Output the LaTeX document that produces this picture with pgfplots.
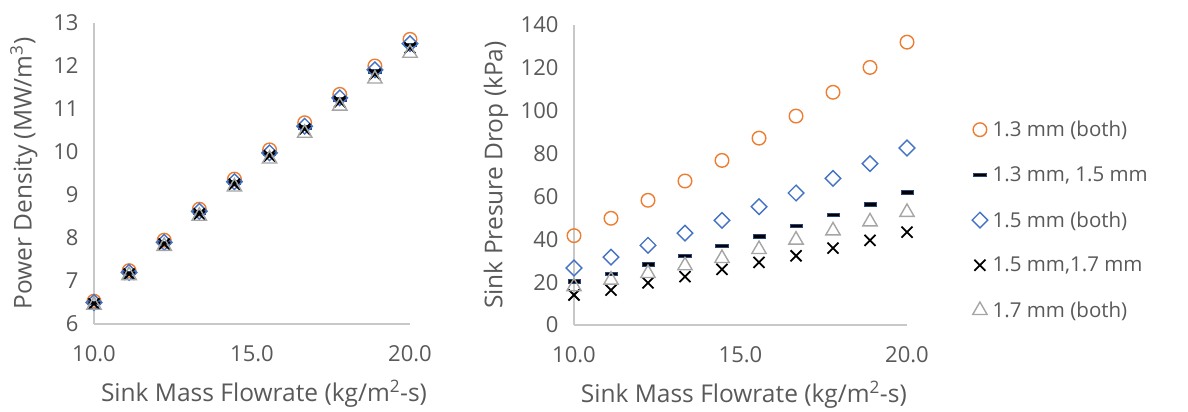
\documentclass[border=0pt]{standalone}
\usepackage{fontspec}
\setmainfont{Open Sans}
\usepackage{pgfplots}
\pgfplotsset{compat=1.18}
\definecolor{cOr}{HTML}{ED7D31}
\definecolor{cBl}{HTML}{4472C4}
\definecolor{cGr}{HTML}{A5A5A5}
\definecolor{cTx}{HTML}{595959}
\definecolor{cAx}{HTML}{C8C8C8}

\pgfplotsset{
  myaxis/.style={
    scale only axis,
    axis x line*=bottom, axis y line*=left,
    axis line style={draw=cAx, line width=1.2pt},
    major tick length=0pt,
    tick style={draw=none},
    ticklabel style={text=cTx, font=\fontsize{22}{24}\selectfont},
    label style={text=cTx, font=\fontsize{24.5}{27}\selectfont},
    /pgf/number format/assume math mode=true,
    xmin=10, xmax=20, xtick={10,15,20},
    xticklabel style={/pgf/number format/fixed, /pgf/number format/fixed zerofill, /pgf/number format/precision=1, yshift=-18pt},
    yticklabel style={xshift=-12pt},
    xlabel={Sink Mass Flowrate (kg/m\textsuperscript{2}-s)},
    clip=false,
  },
  sOr/.style={only marks, mark=o, mark size=6.8pt, mark options={draw=cOr, line width=1.4pt}},
  sDa/.style={only marks, mark=square*, mark size=4pt, mark options={xscale=1.55, yscale=0.45, fill=black, draw=cBl!60!black, line width=0.6pt}},
  sBl/.style={only marks, mark=square, mark size=5.5pt, mark options={rotate=45, draw=cBl, line width=1.4pt}},
  sCr/.style={only marks, mark=x, mark size=7.8pt, mark options={draw=black, line width=1.8pt}},
  sTr/.style={only marks, mark=triangle, mark size=8.3pt, mark options={draw=cGr, line width=1.4pt}},
}

\begin{document}
\begin{tikzpicture}
\path (0pt,0pt) rectangle (1188pt,412pt);

% Left panel
\begin{axis}[myaxis,
  at={(94pt,88pt)}, anchor=south west,
  width=316pt, height=301pt,
  ymin=6, ymax=13, ytick={6,7,8,9,10,11,12,13},
  ylabel={Power Density (MW/m\textsuperscript{3})},
  ylabel style={at={(axis description cs:-0.222,0.5)}, anchor=center},
  xlabel style={at={(axis description cs:0.538,-0.232)}, anchor=center},
]
\addplot[sOr] coordinates {(10,6.53) (11.111,7.24) (12.222,7.95) (13.333,8.67) (14.444,9.37) (15.556,10.05) (16.667,10.68) (17.778,11.34) (18.889,12.00) (20,12.62)};
\addplot[sDa] coordinates {(10,6.49) (11.111,7.19) (12.222,7.89) (13.333,8.60) (14.444,9.29) (15.556,9.96) (16.667,10.58) (17.778,11.23) (18.889,11.88) (20,12.49)};
\addplot[sBl] coordinates {(10,6.50) (11.111,7.20) (12.222,7.90) (13.333,8.62) (14.444,9.31) (15.556,9.98) (16.667,10.60) (17.778,11.26) (18.889,11.91) (20,12.52)};
\addplot[sCr] coordinates {(10,6.47) (11.111,7.16) (12.222,7.86) (13.333,8.56) (14.444,9.25) (15.556,9.91) (16.667,10.53) (17.778,11.17) (18.889,11.81) (20,12.42)};
\addplot[sTr] coordinates {(10,6.44) (11.111,7.13) (12.222,7.81) (13.333,8.51) (14.444,9.19) (15.556,9.84) (16.667,10.44) (17.778,11.07) (18.889,11.70) (20,12.30)};
\end{axis}

% Right panel
\begin{axis}[myaxis,
  at={(574pt,87pt)}, anchor=south west,
  width=333pt, height=300pt,
  ymin=0, ymax=140, ytick={0,20,40,60,80,100,120,140},
  ylabel={Sink Presure Drop (kPa)},
  ylabel style={at={(axis description cs:-0.234,0.5)}, anchor=center},
  xlabel style={at={(axis description cs:0.51,-0.232)}, anchor=center},
  legend style={draw=none, fill=none, at={(axis description cs:1.186,0.35)}, anchor=west,
    font=\fontsize{20.5}{22}\selectfont, text=cTx, row sep=24.5pt, cells={anchor=west},
    /tikz/every odd column/.append style={column sep=3pt}},
  legend cell align=left,
  legend image code/.code={\draw[mark repeat=2,mark phase=2] plot coordinates {(0pt,0pt) (7pt,0pt) (14pt,0pt)};},
]
\addplot[sOr] coordinates {(10,41.7) (11.111,49.8) (12.222,58.2) (13.333,67.2) (14.444,76.8) (15.556,87.2) (16.667,97.5) (17.778,108.6) (18.889,120.2) (20,132.0)};
\addlegendentry{1.3 mm (both)}
\addplot[sDa] coordinates {(10,20.4) (11.111,23.8) (12.222,28.3) (13.333,32.2) (14.444,37.0) (15.556,41.5) (16.667,46.3) (17.778,51.5) (18.889,56.3) (20,61.9)};
\addlegendentry{1.3 mm, 1.5 mm}
\addplot[sBl] coordinates {(10,26.6) (11.111,31.7) (12.222,37.2) (13.333,42.9) (14.444,48.8) (15.556,55.2) (16.667,61.6) (17.778,68.4) (18.889,75.3) (20,82.6)};
\addlegendentry{1.5 mm (both)}
\addplot[sCr] coordinates {(10,14.0) (11.111,16.3) (12.222,19.7) (13.333,22.6) (14.444,26.0) (15.556,29.2) (16.667,32.3) (17.778,35.9) (18.889,39.5) (20,43.3)};
\addlegendentry{1.5 mm,1.7 mm}
\addplot[sTr] coordinates {(10,17.9) (11.111,21.0) (12.222,24.1) (13.333,27.7) (14.444,31.1) (15.556,35.3) (16.667,39.7) (17.778,44.0) (18.889,48.2) (20,52.6)};
\addlegendentry{1.7 mm (both)}
\end{axis}
\end{tikzpicture}
\end{document}
